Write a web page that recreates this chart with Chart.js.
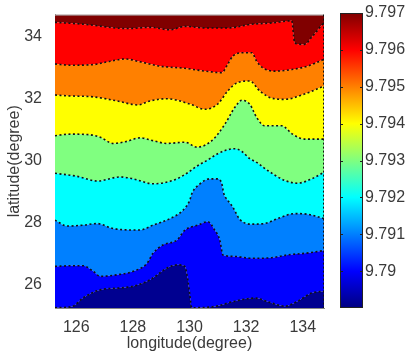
<!DOCTYPE html>
<html>
<head>
<meta charset="utf-8">
<script src="https://cdn.jsdelivr.net/npm/chart.js@4.4.1/dist/chart.umd.min.js"></script>
<style>
body { margin: 0; background: #fff; }
#wrap { position: relative; width: 408px; height: 358px; }
#mapChart { position: absolute; left: 0; top: 0; }
#barChart { position: absolute; left: 330px; top: 0; }
</style>
</head>
<body>
<div id="wrap">
  <canvas id="mapChart" width="330" height="358"></canvas>
  <canvas id="barChart" width="78" height="358"></canvas>
</div>
<script>
// contour levels (boundary values) and filled band colours, bottom to top
const levels = [9.790, 9.791, 9.792, 9.793, 9.794, 9.795, 9.796, 9.797];
const bandColors = ['#000090', '#0000ff', '#0080ff', '#00ffff', '#80ff80',
                    '#ffff00', '#ff8000', '#ff0000', '#800000'];

const lonRange = [125.25, 134.75];
const latRange = [25.25, 34.7];
const xTicks = [126, 128, 130, 132, 134];
const yTicks = [26, 28, 30, 32, 34];
const cbRange = [9.789, 9.797];
const cbTicks = [9.79, 9.791, 9.792, 9.793, 9.794, 9.795, 9.796, 9.797];

// latitude of each contour line
const lon1 = [125.25, 125.86, 126.25, 126.85, 127.44, 128.01, 128.61, 129.20, 129.59, 129.84, 129.94, 130.01, 130.08, 130.89, 131.60, 132.30, 132.90, 133.36, 133.82, 134.31, 134.75];
const lat1 = [25.26, 25.30, 25.58, 25.84, 25.89, 25.95, 26.16, 26.53, 26.64, 26.58, 26.16, 25.68, 25.26, 25.30, 25.47, 25.57, 25.41, 25.31, 25.47, 25.73, 25.79];

const lon2 = [125.25, 125.79, 126.25, 126.60, 126.85, 127.44, 128.01, 128.50, 128.71, 129.06, 129.56, 129.84, 130.30, 130.65, 130.89, 131.07, 131.18, 131.60, 132.20, 132.90, 133.46, 134.06, 134.75];
const lat2 = [26.59, 26.61, 26.61, 26.43, 26.27, 26.32, 26.43, 26.69, 27.01, 27.28, 27.44, 27.76, 27.92, 28.03, 27.76, 27.44, 26.96, 26.91, 26.85, 26.87, 26.96, 27.01, 27.10];

const lon3 = [125.25, 125.68, 126.25, 126.74, 127.30, 128.25, 128.71, 129.31, 129.77, 130.01, 130.08, 130.37, 130.72, 131.00, 131.14, 131.21, 131.35, 131.53, 131.77, 132.20, 132.65, 133.11, 133.71, 134.17, 134.75];
const lat3 = [28.08, 27.89, 27.92, 27.97, 27.81, 27.76, 27.92, 28.13, 28.40, 28.72, 28.93, 29.25, 29.41, 29.41, 29.26, 28.94, 28.72, 28.50, 28.11, 27.95, 27.97, 28.13, 28.29, 28.27, 28.13];

const lon4 = [125.25, 126.04, 126.74, 127.55, 128.01, 128.71, 129.42, 129.84, 130.30, 130.61, 131.00, 131.35, 131.60, 131.85, 132.13, 132.37, 132.76, 133.36, 133.82, 134.31, 134.75];
const lat4 = [29.59, 29.49, 29.34, 29.47, 29.41, 29.25, 29.36, 29.55, 29.84, 30.00, 30.22, 30.35, 30.38, 30.29, 30.06, 29.94, 29.68, 29.36, 29.27, 29.41, 29.62];

const lon5 = [125.25, 125.79, 126.49, 126.85, 127.30, 127.80, 128.25, 128.71, 129.20, 129.84, 130.26, 130.79, 131.25, 131.60, 131.85, 132.13, 132.37, 132.65, 133.25, 133.64, 134.06, 134.75];
const lat5 = [30.80, 30.85, 30.83, 30.75, 30.55, 30.62, 30.73, 30.64, 30.55, 30.59, 30.43, 30.64, 31.17, 31.71, 31.94, 31.81, 31.39, 31.12, 31.12, 30.85, 30.69, 30.69];

const lon6 = [125.25, 125.79, 126.60, 127.44, 128.18, 128.61, 129.20, 130.01, 130.54, 131.00, 131.35, 131.70, 132.13, 132.48, 132.90, 133.36, 134.06, 134.75];
const lat6 = [32.11, 32.08, 32.05, 31.92, 31.79, 31.92, 31.99, 31.82, 31.65, 31.82, 32.24, 32.51, 32.56, 32.24, 32.01, 31.97, 32.14, 32.40];

const lon7 = [125.25, 125.79, 126.60, 127.20, 127.73, 128.25, 128.96, 129.84, 130.54, 131.14, 131.35, 131.53, 131.88, 132.20, 132.37, 132.58, 133.01, 133.61, 134.17, 134.75];
const lat7 = [33.11, 33.07, 33.09, 33.20, 33.27, 33.18, 33.04, 32.97, 32.88, 32.83, 33.10, 33.36, 33.47, 33.47, 33.20, 32.99, 32.88, 32.93, 33.04, 33.26];

const lon8 = [125.25, 126.25, 127.80, 128.61, 129.31, 129.84, 130.54, 131.35, 132.20, 132.90, 133.61, 133.68, 133.71, 134.06, 134.31, 134.49, 134.66, 134.75];
const lat8 = [34.45, 34.39, 34.25, 34.29, 34.21, 34.32, 34.27, 34.27, 34.39, 34.43, 34.50, 34.00, 33.78, 33.74, 33.97, 34.16, 34.35, 34.42];

const lines = [[lon1, lat1], [lon2, lat2], [lon3, lat3], [lon4, lat4],
               [lon5, lat5], [lon6, lat6], [lon7, lat7], [lon8, lat8]];

function pts(lons, lats) {
    return lons.map(function(x, i) { return {x: x, y: lats[i]}; });
}

const font = {family: "'Liberation Sans', Arial, sans-serif", size: 16};
const textColor = '#3a3a3a';
const none = 'rgba(0,0,0,0)';

const datasets = [{
    data: pts(lonRange, [latRange[0], latRange[0]]),
    borderColor: none,
    fill: false
}];
lines.forEach(function(l, i) {
    datasets.push({
        label: String(levels[i]),
        data: pts(l[0], l[1]),
        fill: '-1',
        backgroundColor: bandColors[i],
        borderColor: '#111',
        borderWidth: 1.6,
        borderDash: [2, 2.5]
    });
});
datasets.push({
    data: pts(lonRange, [latRange[1], latRange[1]]),
    fill: '-1',
    backgroundColor: bandColors[8],
    borderColor: none
});

const frame = {
    id: 'frame',
    afterDatasetsDraw(chart) {
        const a = chart.chartArea, ctx = chart.ctx;
        ctx.save();
        ctx.strokeStyle = '#aaa';
        ctx.lineWidth = 1;
        ctx.beginPath();
        ctx.moveTo(a.left, a.top + 0.5);
        ctx.lineTo(a.right, a.top + 0.5);
        ctx.stroke();
        ctx.strokeStyle = '#111';
        ctx.setLineDash([2, 2]);
        ctx.beginPath();
        ctx.moveTo(a.right - 0.5, a.top);
        ctx.lineTo(a.right - 0.5, a.bottom);
        ctx.stroke();
        ctx.restore();
    }
};

const mapChart = new Chart(document.getElementById('mapChart'), {
    type: 'line',
    data: {datasets: datasets},
    options: {
        responsive: false,
        animation: false,
        layout: {padding: {top: 13, right: 6}},
        elements: {
            point: {radius: 0},
            line: {cubicInterpolationMode: 'monotone'}
        },
        plugins: {
            legend: {display: false},
            tooltip: {enabled: false},
            filler: {drawTime: 'beforeDatasetsDraw'}
        },
        scales: {
            x: {
                type: 'linear',
                min: lonRange[0],
                max: lonRange[1],
                afterBuildTicks: function(s) { s.ticks = xTicks.map(function(v) { return {value: v}; }); },
                afterFit: function(s) { s.height = 50; },
                grid: {display: false},
                border: {display: true, color: '#888'},
                ticks: {font: font, color: textColor, padding: 2, maxRotation: 0},
                title: {display: true, text: 'longitude(degree)', font: font, color: textColor, padding: {top: 0, bottom: 5}}
            },
            y: {
                type: 'linear',
                min: latRange[0],
                max: latRange[1],
                afterBuildTicks: function(s) { s.ticks = yTicks.map(function(v) { return {value: v}; }); },
                afterFit: function(s) { s.width = 55; },
                grid: {display: false},
                border: {display: true, color: '#888'},
                ticks: {font: font, color: textColor, padding: 5},
                title: {display: true, text: 'latitude(degree)', font: font, color: textColor, padding: {top: 5, bottom: 0}}
            }
        }
    },
    plugins: [frame]
});

function jet(context) {
    const a = context.chart.chartArea;
    if (!a) return bandColors[4];
    const g = context.chart.ctx.createLinearGradient(0, a.bottom, 0, a.top);
    g.addColorStop(0, '#000080');
    g.addColorStop(0.125, '#0000ff');
    g.addColorStop(0.375, '#00ffff');
    g.addColorStop(0.625, '#ffff00');
    g.addColorStop(0.875, '#ff0000');
    g.addColorStop(1, '#800000');
    return g;
}

const cbFrame = {
    id: 'cbFrame',
    afterDatasetsDraw(chart) {
        const a = chart.chartArea, ctx = chart.ctx, y = chart.scales.y;
        ctx.save();
        ctx.strokeStyle = '#222';
        ctx.lineWidth = 1;
        ctx.strokeRect(a.left + 0.5, a.top + 0.5, a.right - a.left - 1, a.bottom - a.top - 1);
        cbTicks.forEach(function(v) {
            const py = Math.round(y.getPixelForValue(v)) + 0.5;
            ctx.beginPath();
            ctx.moveTo(a.left, py); ctx.lineTo(a.left + 3, py);
            ctx.moveTo(a.right - 3, py); ctx.lineTo(a.right, py);
            ctx.stroke();
        });
        ctx.restore();
    }
};

const barChart = new Chart(document.getElementById('barChart'), {
    type: 'bar',
    data: {
        labels: [''],
        datasets: [{
            data: [cbRange],
            backgroundColor: jet,
            borderWidth: 0,
            barPercentage: 1,
            categoryPercentage: 1
        }]
    },
    options: {
        responsive: false,
        animation: false,
        layout: {padding: {left: 10, top: 13, bottom: 50, right: 0}},
        plugins: {legend: {display: false}, tooltip: {enabled: false}},
        scales: {
            x: {display: false},
            y: {
                position: 'right',
                min: cbRange[0],
                max: cbRange[1],
                afterBuildTicks: function(s) { s.ticks = cbTicks.map(function(v) { return {value: v}; }); },
                afterFit: function(s) { s.width = 45; },
                grid: {display: false, drawTicks: false},
                border: {display: false},
                ticks: {font: font, color: textColor, padding: 2, callback: function(v) { return String(v); }}
            }
        }
    },
    plugins: [cbFrame]
});
</script>
</body>
</html>
